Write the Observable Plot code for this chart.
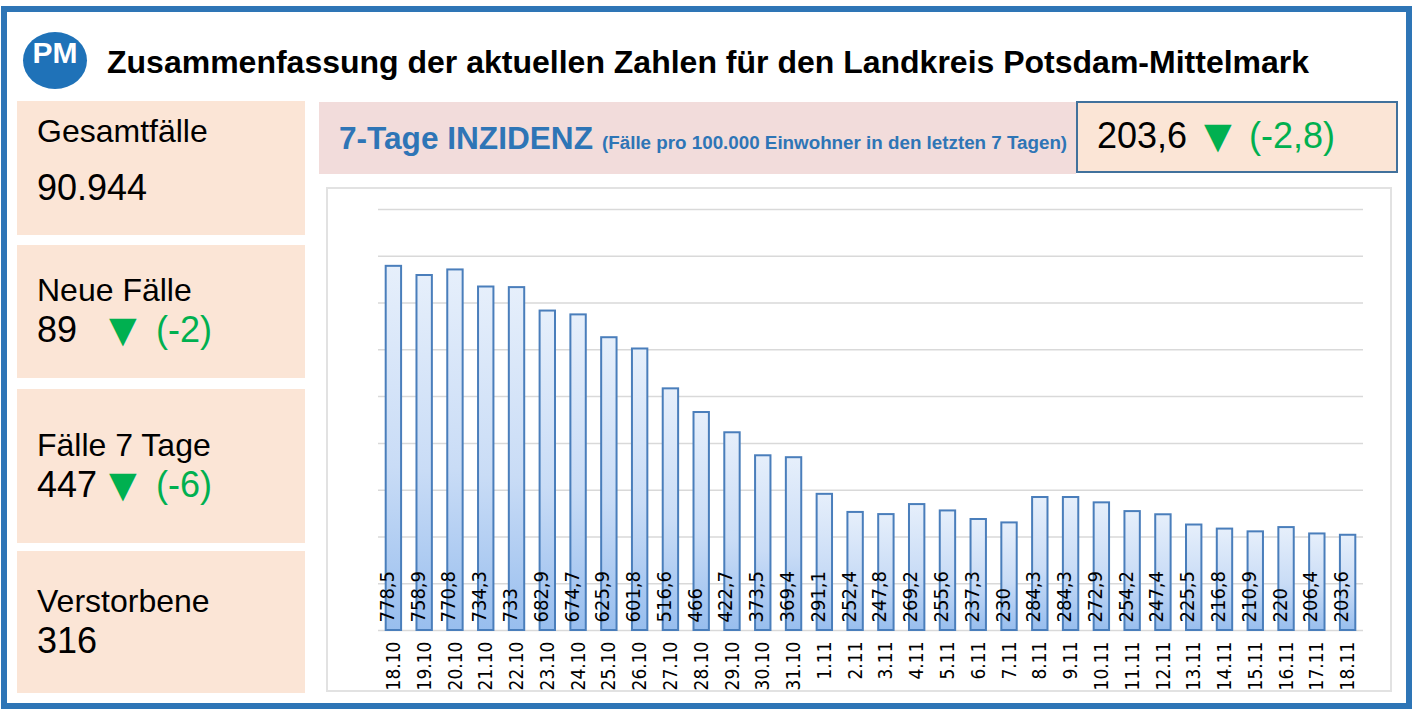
<!DOCTYPE html>
<html>
<head>
<meta charset="utf-8">
<script src="https://cdn.jsdelivr.net/npm/d3@7"></script>
<script src="https://cdn.jsdelivr.net/npm/@observablehq/plot@0.6"></script>
<style>
  html, body { margin: 0; padding: 0; background: #fff; }
  body { width: 1415px; height: 709px; position: relative; overflow: hidden; font-family: "Liberation Sans", Arial, sans-serif; }
  .abs { position: absolute; white-space: nowrap; line-height: 1; }
  .panel { position: absolute; background: #FBE5D6; }
  .green { color: #00B050; }
  .tri { font-family: "DejaVu Sans", sans-serif; font-size: 36px; color: #00B050; }
</style>
</head>
<body>
<div class="abs" style="left:1px;top:6px;width:1411px;height:703px;border:6px solid #2E75B6;box-sizing:border-box;"></div>

<!-- logo -->
<div class="abs" style="left:23px;top:32px;width:64px;height:57px;border-radius:50%;background:#1F72B8;"></div>
<div class="abs" style="left:23px;top:37.6px;width:64px;text-align:center;color:#fff;font-weight:bold;font-size:30px;">PM</div>

<div class="abs" id="title" style="left:107px;top:45.9px;font-size:32px;font-weight:bold;color:#000;"></div>

<div id="panels"></div>

<!-- header band -->
<div class="panel" style="left:319px;top:102px;width:757px;height:72px;background:#F2DCDB;"></div>
<div class="abs" id="incTitle" style="left:339px;top:123.2px;font-size:31.6px;font-weight:bold;color:#2E75B6;"></div>
<div class="abs" id="incSub" style="left:602px;top:134.1px;font-size:18.8px;font-weight:bold;color:#2E75B6;"></div>

<div class="panel" style="left:1076px;top:101px;width:322px;height:72px;border:2px solid #41719C;box-sizing:border-box;"></div>
<div class="abs" id="incValue" style="left:1097px;top:117.5px;font-size:36px;color:#000;"></div>
<div class="abs tri" id="incTri" style="left:1204px;top:117.5px;"></div>
<div class="abs green" id="incDelta" style="left:1249px;top:117.5px;font-size:36px;"></div>

<!-- chart box -->
<div class="abs" style="left:326px;top:187px;width:1066px;height:505px;border:2px solid #E2E2E2;box-sizing:border-box;background:#fff;"></div>
<div class="abs" id="chart" style="left:326px;top:187px;"></div>

<script>
// ---- data ----
const titleText = "Zusammenfassung der aktuellen Zahlen für den Landkreis Potsdam-Mittelmark";
const incidenceTitle = "7-Tage INZIDENZ";
const incidenceSubtitle = "(Fälle pro 100.000 Einwohner in den letzten 7 Tagen)";
const incidenceCurrent = "203,6";
const incidenceDelta = "(-2,8)";

const panelLabels = ["Gesamtfälle", "Neue Fälle", "Fälle 7 Tage", "Verstorbene"];
const panelValues = ["90.944", "89", "447", "316"];
const panelDeltas = [null, "(-2)", "(-6)", null];

const dates = ["18.10","19.10","20.10","21.10","22.10","23.10","24.10","25.10","26.10","27.10","28.10","29.10","30.10","31.10",
  "1.11","2.11","3.11","4.11","5.11","6.11","7.11","8.11","9.11","10.11","11.11","12.11","13.11","14.11","15.11","16.11","17.11","18.11"];
const incidence = [778.5,758.9,770.8,734.3,733,682.9,674.7,625.9,601.8,516.6,466,422.7,373.5,369.4,
  291.1,252.4,247.8,269.2,255.6,237.3,230,284.3,284.3,272.9,254.2,247.4,225.5,216.8,210.9,220,206.4,203.6];
const yTicks = [0,100,200,300,400,500,600,700,800,900];

// ---- header texts ----
document.getElementById("title").textContent = titleText;
document.getElementById("incTitle").textContent = incidenceTitle;
document.getElementById("incSub").textContent = incidenceSubtitle;
document.getElementById("incValue").textContent = incidenceCurrent;
document.getElementById("incTri").textContent = "▼";
document.getElementById("incDelta").textContent = incidenceDelta;

// ---- left panels ----
const panelBoxes = [[101,134],[245,133],[389,154],[551,142]];
const labelBase = [142, 301, 456, 612];
const valueBase = [200, 342, 497, 653];
const pc = document.getElementById("panels");
panelLabels.forEach((lab, i) => {
  const [top, h] = panelBoxes[i];
  const p = document.createElement("div");
  p.className = "panel";
  p.style.cssText = `left:17px;top:${top}px;width:288px;height:${h}px;`;
  pc.appendChild(p);
  const l = document.createElement("div");
  l.className = "abs";
  l.style.cssText = `left:37px;top:${labelBase[i] - 32*0.8465}px;font-size:32px;color:#000;`;
  l.textContent = lab;
  pc.appendChild(l);
  const v = document.createElement("div");
  v.className = "abs";
  v.style.cssText = `left:37px;top:${valueBase[i] - 36*0.8465}px;font-size:36px;color:#000;`;
  v.textContent = panelValues[i];
  pc.appendChild(v);
  if (panelDeltas[i]) {
    const t = document.createElement("div");
    t.className = "abs tri";
    t.style.cssText = `left:109px;top:${valueBase[i] - 36*0.8465}px;`;
    t.textContent = "▼";
    pc.appendChild(t);
    const d = document.createElement("div");
    d.className = "abs green";
    d.style.cssText = `left:156px;top:${valueBase[i] - 36*0.8465}px;font-size:36px;`;
    d.textContent = panelDeltas[i];
    pc.appendChild(d);
  }
});

// ---- chart ----
const rows = dates.map((d, i) => ({date: d, value: incidence[i], label: String(incidence[i]).replace(".", ",")}));
const chart = Plot.plot({
  width: 1066,
  height: 505,
  marginLeft: 52,
  marginRight: 29,
  marginTop: 22,
  marginBottom: 62,
  style: {background: "transparent", fontFamily: "'Liberation Sans Narrow','DejaVu Sans Condensed',sans-serif"},
  x: {domain: dates, paddingInner: 0.5, paddingOuter: 0.25, round: false, label: null, tickSize: 0, tickPadding: 11, tickRotate: -90, fontSize: 19},
  y: {domain: [0, 900], axis: null},
  marks: [
    Plot.ruleY(yTicks, {stroke: "#D9D9D9", strokeWidth: 1.5}),
    Plot.barY(rows, {x: "date", y: "value", fill: "url(#barGrad)", stroke: "#4A7EBB", strokeWidth: 2}),
    Plot.text(rows, {x: "date", text: "label", frameAnchor: "bottom", rotate: -90, textAnchor: "start", dy: -8, fontSize: 20, fill: "#000"})
  ]
});
const svg = d3.select(chart);
svg.selectAll("g[aria-label='x-axis tick label'] text, g[aria-label='x-axis'] text").attr("font-size", 19).attr("fill", "#000");
svg.selectAll("g[aria-label='x-axis tick label'], g[aria-label='x-axis']").attr("font-size", 19);
const defs = svg.insert("defs", ":first-child");
const grad = defs.append("linearGradient").attr("id", "barGrad").attr("x1", 0).attr("y1", 0).attr("x2", 0).attr("y2", 1);
grad.append("stop").attr("offset", "0%").attr("stop-color", "#E6EFFB");
grad.append("stop").attr("offset", "55%").attr("stop-color", "#C9DCF6");
grad.append("stop").attr("offset", "100%").attr("stop-color", "#98BEEE");
document.getElementById("chart").appendChild(chart);
</script>
</body>
</html>
